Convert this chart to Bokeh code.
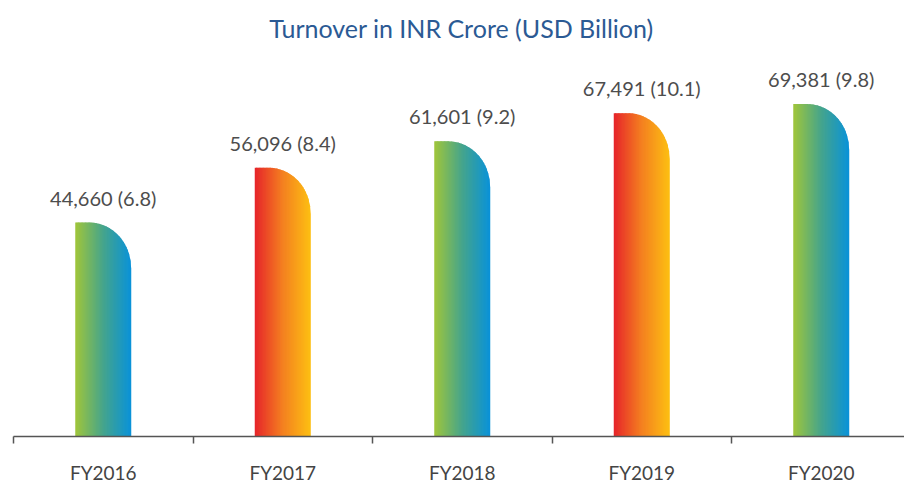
import numpy as np
from bokeh.plotting import figure
from bokeh.models import Range1d, FixedTicker, Label, ColumnDataSource
from bokeh.core.properties import value
from bokeh.embed import file_html
from bokeh.resources import INLINE

# ---- data ----
categories = ["FY2016", "FY2017", "FY2018", "FY2019", "FY2020"]
turnover_inr = [44660, 56096, 61601, 67491, 69381]
turnover_usd = [6.8, 8.4, 9.2, 10.1, 9.8]
palettes = ["greenblue", "redorange", "greenblue", "redorange", "greenblue"]
title_text = "Turnover in INR Crore (USD Billion)"

# ---- styling ----
FONT = "Lato"
GRAD = {
    "greenblue": [(0.0, (0xA0, 0xC6, 0x3A)), (0.5, (0x45, 0xA4, 0x8C)), (1.0, (0x08, 0x92, 0xDA))],
    "redorange": [(0.0, (0xE6, 0x24, 0x2A)), (0.5, (0xF4, 0x80, 0x20)), (1.0, (0xFD, 0xC0, 0x12))],
}

def grad_color(name, t):
    stops = GRAD[name]
    for (t0, c0), (t1, c1) in zip(stops[:-1], stops[1:]):
        if t <= t1:
            f = (t - t0) / (t1 - t0)
            c = [round(a + (b - a) * f) for a, b in zip(c0, c1)]
            return "#%02x%02x%02x" % tuple(c)
    return "#%02x%02x%02x" % stops[-1][1]

W, H = 904, 486
left_px, bottom_px = 13, 49
cat_px = 179.5
y_top = 91000.0
x_end = (W - left_px) / cat_px
frame_h = H - bottom_px
px_per_unit = frame_h / y_top

p = figure(width=W, height=H, output_backend="svg", toolbar_location=None,
           x_range=Range1d(0, x_end), y_range=Range1d(0, y_top),
           min_border_left=left_px, min_border_right=0, min_border_top=0,
           min_border_bottom=bottom_px)
p.outline_line_color = None
p.grid.visible = False
p.yaxis.visible = False
p.background_fill_color = "white"
p.border_fill_color = "white"

bar_w = 56 / cat_px
rx = 42 / cat_px
ry = 46 / px_per_unit
nstrip = 40

xs_all, ys_all, cols = [], [], []
for i, (v, pal) in enumerate(zip(turnover_inr, palettes)):
    cx = i + 0.5
    x0, x1 = cx - bar_w / 2, cx + bar_w / 2
    xc = x1 - rx

    def top(x):
        if x <= xc:
            return v
        u = min(1.0, (x - xc) / rx)
        return v - ry + ry * np.sqrt(max(0.0, 1 - u * u))

    edges = np.linspace(x0, x1, nstrip + 1)
    sw = edges[1] - edges[0]
    for k in range(nstrip):
        xa, xb = edges[k], edges[k + 1]
        xb2 = min(x1, xb + 0.6 * sw)
        xs_strip = [xa, xb2, xb2, xa]
        ys_strip = [0, 0, top(xb2), top(xa)]
        xs_all.append(xs_strip)
        ys_all.append(ys_strip)
        cols.append(grad_color(pal, (k + 0.5) / nstrip))

p.patches(xs="xs", ys="ys", fill_color="cols", line_color=None,
          source=ColumnDataSource(dict(xs=xs_all, ys=ys_all, cols=cols)))

# value labels
lab_src = ColumnDataSource(dict(
    x=[i + 0.5 for i in range(len(categories))],
    y=turnover_inr,
    t=[f"{a:,} ({b})" for a, b in zip(turnover_inr, turnover_usd)],
))
p.text(x="x", y="y", text="t", source=lab_src, text_align="center",
       text_baseline="middle", y_offset=-25, text_font=value(FONT),
       text_font_size="20px", text_color="#4d4d4d")

# title
p.add_layout(Label(x=(461 - left_px) / cat_px, y=(frame_h - 28) / px_per_unit,
                   text=title_text, text_align="center", text_baseline="middle",
                   text_font=FONT, text_font_size="25px", text_color="#2b5a94"))

# x axis
ax = p.xaxis[0]
ax.ticker = FixedTicker(ticks=[i + 0.5 for i in range(len(categories))],
                        minor_ticks=list(range(len(categories) + 1)))
ax.major_label_overrides = {i + 0.5: c for i, c in enumerate(categories)}
ax.major_tick_out = 0
ax.major_tick_in = 0
ax.minor_tick_out = 7
ax.minor_tick_in = 0
ax.minor_tick_line_color = "#555555"
ax.minor_tick_line_width = 1.5
ax.axis_line_color = "#555555"
ax.axis_line_width = 1.5
ax.major_label_standoff = 17
ax.major_label_text_font = FONT
ax.major_label_text_font_size = "19px"
ax.major_label_text_color = "#444444"

open("out.html", "w").write(file_html(p, INLINE))
